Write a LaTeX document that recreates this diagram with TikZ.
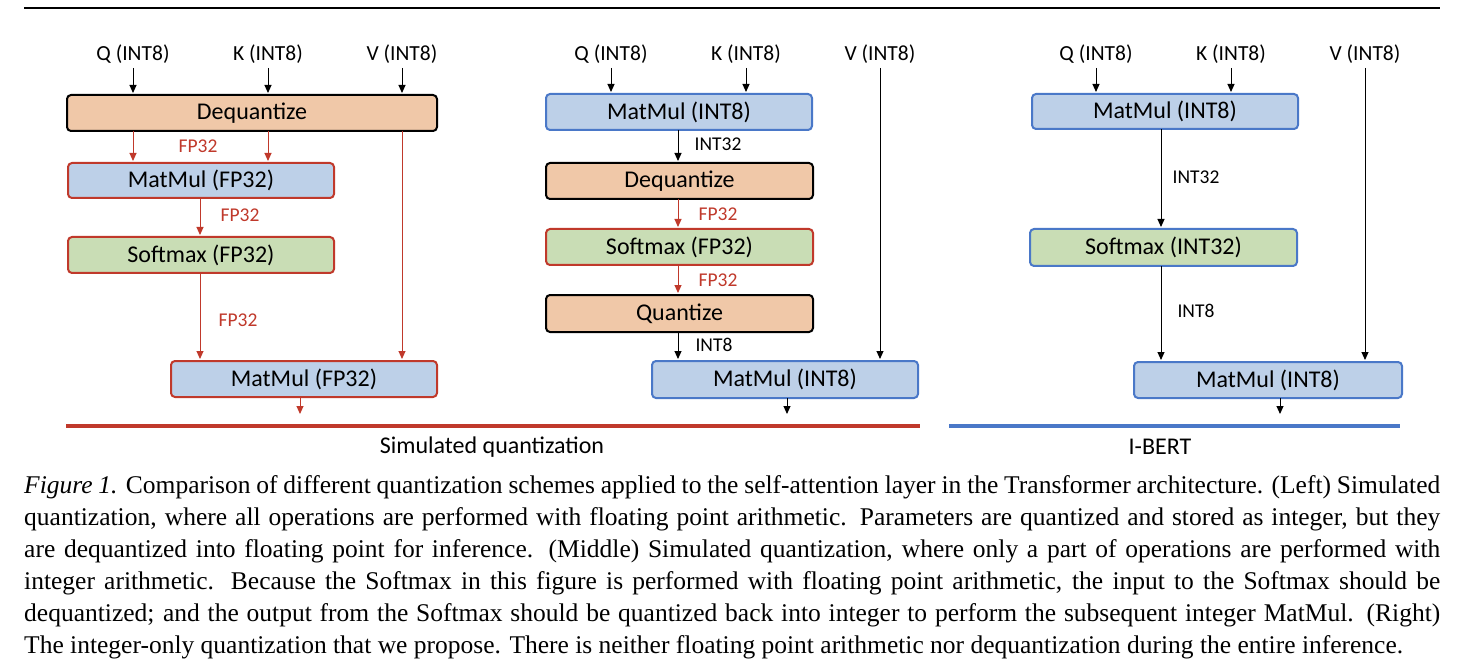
\documentclass[tikz,border=0pt]{standalone}
\usepackage{fontspec}
\setmainfont{Liberation Serif}
\newfontfamily\carl{Carlito}
\usetikzlibrary{arrows.meta}
\definecolor{peach}{HTML}{F0C8A8}
\definecolor{lblue}{HTML}{BDD0E8}
\definecolor{lgreen}{HTML}{C9DDB5}
\definecolor{rd}{HTML}{C0392B}
\definecolor{bl}{HTML}{4A78C8}
\newcommand{\capline}[1]{\hbox to 1416pt{#1}}
\begin{document}
\begin{tikzpicture}[x=1pt,y=-1pt,
 box/.style={draw,line width=2pt,rounded corners=4pt,anchor=north west,inner sep=0pt,font=\carl\fontsize{24}{24}\selectfont},
 deq/.style={box,fill=peach,draw=black},
 mmr/.style={box,fill=lblue,draw=rd},
 smr/.style={box,fill=lgreen,draw=rd},
 mmb/.style={box,fill=lblue,draw=bl},
 smb/.style={box,fill=lgreen,draw=bl},
 lab/.style={font=\carl\fontsize{21.5}{21.5}\selectfont},
 tlab/.style={font=\carl\fontsize{24}{24}\selectfont},
 rlab/.style={font=\carl\fontsize{19.5}{19.5}\selectfont,text=rd},
 blab/.style={font=\carl\fontsize{19.5}{19.5}\selectfont},
 ka/.style={-{Triangle[width=7pt,length=8pt]},line width=1pt},
 ra/.style={ka,draw=rd,fill=rd},
 captxt/.style={anchor=west,inner sep=0pt,font=\fontsize{25.5}{26}\selectfont}]
\useasboundingbox (0,0) rectangle (1457,671);
\fill[white] (0,0) rectangle (1457,671);
\draw[line width=2pt] (24,8) -- (1440,8);
% left
\node[lab] (q1) at (133,54) {Q (INT8)};
\node[lab] (k1) at (268,54) {K (INT8)};
\node[lab] (v1) at (402,54) {V (INT8)};
\node[deq,minimum width=370pt,minimum height=36pt] (d1) at (66,94) {Dequantize};
\node[mmr,minimum width=266pt,minimum height=35pt] (m1) at (67,162) {MatMul (FP32)};
\node[smr,minimum width=266pt,minimum height=36pt] (s1) at (67,236) {Softmax (FP32)};
\node[mmr,minimum width=266pt,minimum height=36pt] (m1b) at (170,360) {MatMul (FP32)};
\draw[ka] (133,68) -- (133,93);
\draw[ka] (268,68) -- (268,93);
\draw[ka] (402,68) -- (402,93);
\draw[ra] (133,131) -- (133,161);
\draw[ra] (268,131) -- (268,161);
\draw[ra] (402,131) -- (402,359);
\draw[ra] (200,198) -- (200,235);
\draw[ra] (200,273) -- (200,359);
\draw[ra] (300,397) -- (300,414);
\node[rlab] at (198,146) {FP32};
\node[rlab] at (240,215) {FP32};
\node[rlab] at (238,320) {FP32};
\draw[rd,line width=3.5pt] (66,426) -- (920,426);
\node[tlab] at (492,447) {Simulated quantization};
% middle
\node[lab] at (611,54) {Q (INT8)};
\node[lab] at (746,54) {K (INT8)};
\node[lab] at (880,54) {V (INT8)};
\node[mmb,minimum width=266pt,minimum height=36pt] (m2) at (545,93) {MatMul (INT8)};
\node[deq,minimum width=267pt,minimum height=36pt] (d2) at (545,162) {Dequantize};
\node[smr,minimum width=267pt,minimum height=36pt] (s2) at (545,228) {Softmax (FP32)};
\node[deq,minimum width=267pt,minimum height=37pt] (qz2) at (545,294) {Quantize};
\node[mmb,minimum width=266pt,minimum height=37pt] (m2b) at (651,360) {MatMul (INT8)};
\draw[ka] (611,68) -- (611,92);
\draw[ka] (746,68) -- (746,92);
\draw[ka] (880,68) -- (880,359);
\draw[ka] (678,130) -- (678,161);
\draw[ra] (678,199) -- (678,227);
\draw[ra] (678,265) -- (678,293);
\draw[ka] (678,332) -- (678,359);
\draw[ka] (787,398) -- (787,414);
\node[blab] at (718,144) {INT32};
\node[rlab] at (718,214) {FP32};
\node[rlab] at (718,280) {FP32};
\node[blab] at (714,345) {INT8};
% right
\node[lab] at (1096,54) {Q (INT8)};
\node[lab] at (1231,54) {K (INT8)};
\node[lab] at (1365,54) {V (INT8)};
\node[mmb,minimum width=266pt,minimum height=35pt] (m3) at (1031,93) {MatMul (INT8)};
\node[smb,minimum width=267pt,minimum height=37pt] (s3) at (1029,228) {Softmax (INT32)};
\node[mmb,minimum width=268pt,minimum height=36pt] (m3b) at (1133,361) {MatMul (INT8)};
\draw[ka] (1096,68) -- (1096,92);
\draw[ka] (1231,68) -- (1231,92);
\draw[ka] (1365,68) -- (1365,360);
\draw[ka] (1161,129) -- (1161,227);
\draw[ka] (1161,266) -- (1161,360);
\draw[ka] (1280,398) -- (1280,414);
\node[blab] at (1196,177) {INT32};
\node[blab] at (1196,311) {INT8};
\draw[bl,line width=3.5pt] (949,426) -- (1400,426);
\node[tlab] at (1160,447) {I-BERT};
% caption
\node[captxt] at (24,487) {\capline{\textit{Figure 1.} Comparison of different quantization schemes applied to the self-attention layer in the Transformer architecture. (Left) Simulated}};
\node[captxt] at (24,519) {\capline{quantization, where all operations are performed with floating point arithmetic. Parameters are quantized and stored as integer, but they}};
\node[captxt] at (24,551) {\capline{are dequantized into floating point for inference. (Middle) Simulated quantization, where only a part of operations are performed with}};
\node[captxt] at (24,583) {\capline{integer arithmetic. Because the Softmax in this figure is performed with floating point arithmetic, the input to the Softmax should be}};
\node[captxt] at (24,615) {\capline{dequantized; and the output from the Softmax should be quantized back into integer to perform the subsequent integer MatMul. (Right)}};
\node[captxt] at (24,647) {The integer-only quantization that we propose. There is neither floating point arithmetic nor dequantization during the entire inference.};
\end{tikzpicture}
\end{document}
